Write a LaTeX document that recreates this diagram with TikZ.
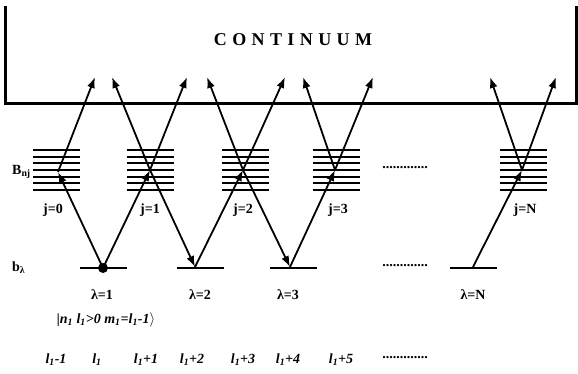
\documentclass[tikz,border=0pt]{standalone}
\usepackage{fontspec}
\setmainfont{Liberation Serif}
\usetikzlibrary{arrows.meta}
\tikzset{
  base/.style={font=\fontsize{14}{16}\selectfont\bfseries, inner sep=0pt},
  lbl/.style={base},
  ilbl/.style={base, font=\fontsize{14}{16}\selectfont\bfseries\itshape},
  dots/.style={base, font=\fontsize{14}{14}\selectfont\bfseries},
  title/.style={base, font=\fontsize{18}{20}\selectfont\bfseries\addfontfeature{LetterSpace=30}},
  wall/.style={line width=3pt},
  level/.style={line width=1.8pt},
  arr/.style={-{Latex[length=11pt,width=8pt]}, line width=1.8pt},
}
\begin{document}
\begin{tikzpicture}[x=1pt,y=-1pt]
  \useasboundingbox (0,0) rectangle (578,373);
  % continuum
  \draw[wall] (5,6) -- (5,103) -- (576.5,103) -- (576.5,6);
  \node[title] (cont) at (293,40) {CONTINUUM};
  % bound levels B_nj
  \foreach \n/\x in {0/56.5,1/150,2/245.5,3/336,N/523}{
    \foreach \k in {0,...,6}{\draw[level] ({\x-23.5},{150+6.67*\k}) -- ({\x+23.5},{150+6.67*\k});}
  }
  % ground levels b_lambda
  \foreach \n/\x in {1/103.5,2/200,3/293,N/473.5}{\draw[level] ({\x-23.5},268) -- ({\x+23.5},268);}
  % crossing points, level points, continuum tips
  \coordinate (c0) at (58,172);
  \coordinate (c1) at (150,170);
  \coordinate (c2) at (243,170);
  \coordinate (c3) at (335,170);
  \coordinate (cN) at (522,170);
  \coordinate (p1) at (103,268);
  \coordinate (p2) at (195,267);
  \coordinate (p3) at (290,267);
  \coordinate (pN) at (473,267);
  \foreach \x [count=\i] in {95,112,187,207,285,303,373,490,556}{\coordinate (t\i) at (\x,77);}
  % transitions
  \foreach \a/\b in {p1/c0,c0/t1,p1/c1,c1/t3,c1/t2,c1/p2,p2/c2,c2/t5,c2/t4,c2/p3,p3/c3,c3/t7,c3/t6,pN/cN,cN/t9,cN/t8}{\draw[arr] (\a) -- (\b);}
  \fill (p1) circle (5pt);
  % labels
  \node[lbl,anchor=west] (Bnj) at (12,172) {B\textsubscript{nj}};
  \node[lbl,anchor=west] (blam) at (12,268) {b\textsubscript{λ}};
  \foreach \n/\x in {0/53,1/150,2/243,3/338,N/525}{\node[lbl] (j\n) at (\x,210) {j=\n};}
  \foreach \n/\x in {1/102,2/200,3/288,N/473}{\node[lbl] (lam\n) at (\x,295) {λ=\n};}
  \node[dots] (dotsB) at (405,168) {.............};
  \node[dots] (dotsb) at (405,266) {.............};
  \node[ilbl] (ket) at (106,320) {|n\textsubscript{1} l\textsubscript{1}>0 m\textsubscript{1}=l\textsubscript{1}-1$\rangle$};
  \foreach \x/\t [count=\i] in {56/-1,97/,146/+1,192/+2,243/+3,288/+4,341/+5}{\node[ilbl] (l\i) at (\x,360) {l\textsubscript{1}\t};}
  \node[dots] (dotsl) at (405,358) {.............};
\end{tikzpicture}
\end{document}
